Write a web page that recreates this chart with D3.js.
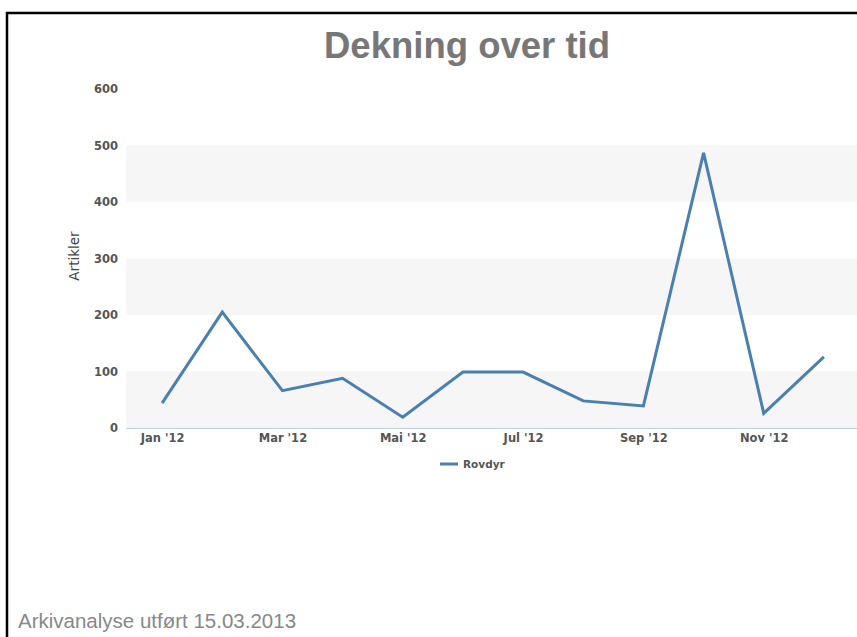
<!DOCTYPE html>
<html><head><meta charset="utf-8">
<script src="https://cdn.jsdelivr.net/npm/d3@7"></script>
<style>body{margin:0;background:#fff}svg{display:block}</style>
</head><body>
<svg id="c" width="857" height="637"></svg>
<script>
const months = ["Jan '12","Feb '12","Mar '12","Apr '12","Mai '12","Jun '12","Jul '12","Aug '12","Sep '12","Okt '12","Nov '12","Des '12"];
const rovdyr = [44, 205, 66, 88, 19, 99, 99, 48, 39, 487, 26, 126];
const yTicks = [0, 100, 200, 300, 400, 500, 600];
const seriesName = "Rovdyr";
const titleText = "Dekning over tid";
const yTitle = "Artikler";
const footer = "Arkivanalyse utført 15.03.2013";

const svg = d3.select("#c");
const pL = 126, pR = 857, pT = 89, pB = 428;
const x = d3.scaleLinear().domain([-0.6, 11.55]).range([pL, pR]);
const y = d3.scaleLinear().domain([0, 600]).range([pB, pT]);

// border
svg.append("path").attr("d", `M7,637 V13 H857`).attr("fill","none").attr("stroke","#000").attr("stroke-width",2.5);

// bands
const bands = [];
for (let i = 0; i < yTicks.length - 1; i += 2) bands.push([yTicks[i], yTicks[i+1]]);
svg.selectAll("rect.band").data(bands).enter().append("rect")
  .attr("x", pL).attr("width", pR - pL)
  .attr("y", d => y(d[1])).attr("height", d => y(d[0]) - y(d[1]))
  .attr("fill", "#f6f6f6");

// x axis line
svg.append("line").attr("x1", pL).attr("x2", pR).attr("y1", pB + 0.5).attr("y2", pB + 0.5)
  .attr("stroke", "#c0d0e0").attr("stroke-width", 1);

// y labels
const yAxis = d3.axisLeft(y).tickValues(yTicks).tickSize(0).tickPadding(0);
const gy = svg.append("g").attr("transform", `translate(118,0)`).call(yAxis);
gy.select(".domain").remove();
gy.selectAll("text").attr("font-family", "DejaVu Sans, sans-serif").attr("font-size", 11.5)
  .attr("font-weight", "bold").attr("fill", "#555").attr("dy", "0.32em");

// x labels
const xIdx = d3.range(0, 12, 2);
const xAxis = d3.axisBottom(x).tickValues(xIdx).tickFormat(i => months[i]).tickSize(0).tickPadding(0);
const gx = svg.append("g").attr("transform", `translate(0,${pB + 10})`).call(xAxis);
gx.select(".domain").remove();
gx.selectAll("text").attr("font-family", "DejaVu Sans, sans-serif").attr("font-size", 11.5)
  .attr("font-weight", "bold").attr("fill", "#555").attr("dy", "0.32em");

// line
const line = d3.line().x((d, i) => x(i)).y(d => y(d));
svg.append("path").datum(rovdyr).attr("d", line).attr("fill", "none")
  .attr("stroke", "#4a7fb2").attr("stroke-width", 3).attr("stroke-linejoin", "miter");

// title
svg.append("text").attr("x", 467).attr("y", 58).attr("text-anchor", "middle")
  .attr("font-family", "Liberation Sans, Arial, sans-serif").attr("font-weight", "bold")
  .attr("font-size", 36.5).attr("fill", "#777").text(titleText);

// y title
svg.append("text").attr("transform", "translate(79,256) rotate(-90)").attr("text-anchor", "middle")
  .attr("font-family", "DejaVu Sans, sans-serif").attr("font-size", 13.5)
  .attr("fill", "#444").text(yTitle);

// legend
svg.append("line").attr("x1", 440).attr("x2", 458).attr("y1", 464).attr("y2", 464)
  .attr("stroke", "#4a7fb2").attr("stroke-width", 3);
svg.append("text").attr("x", 463).attr("y", 464).attr("dy", "0.35em")
  .attr("font-family", "DejaVu Sans, sans-serif").attr("font-size", 10.5).attr("font-weight", "bold")
  .attr("fill", "#555").text(seriesName);

// footer
svg.append("text").attr("x", 18).attr("y", 628)
  .attr("font-family", "Liberation Sans, Arial, sans-serif").attr("font-size", 20.5)
  .attr("fill", "#888").text(footer);
</script>
</body></html>
